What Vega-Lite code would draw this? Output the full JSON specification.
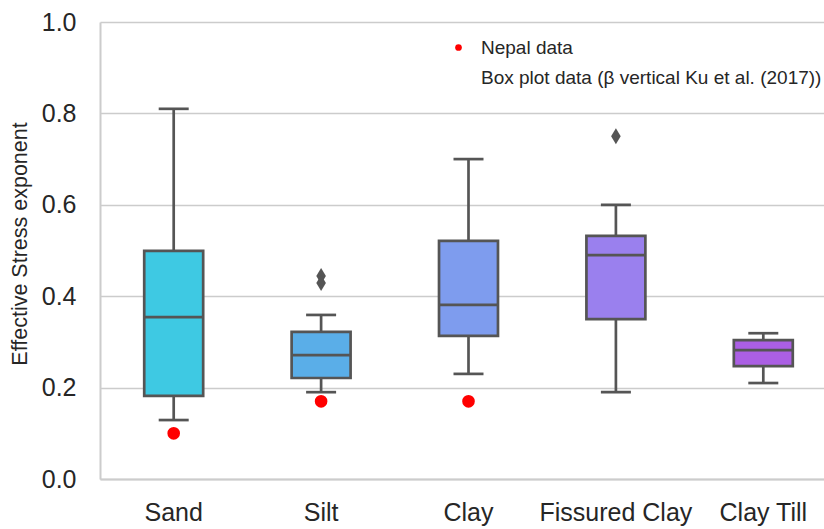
{
  "$schema": "https://vega.github.io/schema/vega-lite/v6.json",
  "width": 724,
  "height": 457,
  "autosize": {"type": "none"},
  "padding": {"left": 100, "top": 22, "right": 0, "bottom": 50},
  "background": "white",
  "config": {
    "font": "Liberation Sans",
    "view": {"stroke": null},
    "axis": {"labelColor": "#262626", "titleColor": "#262626", "labelFont": "Liberation Sans", "titleFont": "Liberation Sans"}
  },
  "datasets": {
    "boxes": [
      {"soil": "Sand", "lower": 0.129, "q1": 0.182, "median": 0.354, "q3": 0.499, "upper": 0.81},
      {"soil": "Silt", "lower": 0.19, "q1": 0.221, "median": 0.271, "q3": 0.322, "upper": 0.359},
      {"soil": "Clay", "lower": 0.23, "q1": 0.313, "median": 0.381, "q3": 0.521, "upper": 0.70},
      {"soil": "Fissured Clay", "lower": 0.19, "q1": 0.35, "median": 0.49, "q3": 0.532, "upper": 0.60},
      {"soil": "Clay Till", "lower": 0.21, "q1": 0.247, "median": 0.282, "q3": 0.304, "upper": 0.319}
    ],
    "outliers": [
      {"soil": "Silt", "value": 0.444},
      {"soil": "Silt", "value": 0.429},
      {"soil": "Fissured Clay", "value": 0.75}
    ],
    "nepal": [
      {"soil": "Sand", "value": 0.10, "series": "Nepal data"},
      {"soil": "Silt", "value": 0.17, "series": "Nepal data"},
      {"soil": "Clay", "value": 0.17, "series": "Nepal data"}
    ]
  },
  "layer": [
    {
      "data": {"name": "boxes"},
      "mark": {"type": "rule", "color": "#555555", "strokeWidth": 2.7},
      "encoding": {
        "x": {
          "field": "soil", "type": "nominal",
          "sort": ["Sand", "Silt", "Clay", "Fissured Clay", "Clay Till"],
          "scale": {"domain": ["Sand", "Silt", "Clay", "Fissured Clay", "Clay Till"], "range": [0, 737], "paddingInner": 0, "paddingOuter": 0},
          "axis": {"title": null, "labelAngle": 0, "labelFontSize": 25, "labelPadding": 21, "ticks": false, "domain": true, "domainColor": "#cccccc", "domainWidth": 2, "grid": false}
        },
        "y": {
          "field": "lower", "type": "quantitative",
          "scale": {"domain": [0, 1], "nice": false, "zero": true},
          "axis": {"title": "Effective Stress exponent", "titleFontSize": 21.5, "titleFontWeight": "normal", "titlePadding": 10, "titleY": 221.5, "values": [0, 0.2, 0.4, 0.6, 0.8, 1.0], "format": ".1f", "labelFontSize": 25, "labelPadding": 24, "ticks": false, "domainColor": "#cccccc", "domainWidth": 2, "grid": true, "gridColor": "#cccccc", "gridWidth": 1.5}
        },
        "y2": {"field": "upper"}
      }
    },
    {
      "data": {"name": "boxes"},
      "mark": {"type": "bar", "width": {"band": 0.4}, "stroke": "#555555", "strokeWidth": 2.7},
      "encoding": {
        "x": {"field": "soil", "type": "nominal"},
        "y": {"field": "q1", "type": "quantitative"},
        "y2": {"field": "q3"},
        "fill": {
          "field": "soil", "type": "nominal",
          "scale": {"domain": ["Sand", "Silt", "Clay", "Fissured Clay", "Clay Till"], "range": ["#3ec9e3", "#5aaee8", "#7e9cee", "#9a80ee", "#ab5fe4"]},
          "legend": null
        }
      }
    },
    {
      "data": {"name": "boxes"},
      "mark": {"type": "tick", "color": "#555555", "thickness": 2.7, "size": 59, "opacity": 1},
      "encoding": {
        "x": {"field": "soil", "type": "nominal"},
        "y": {"field": "median", "type": "quantitative"}
      }
    },
    {
      "data": {"name": "boxes"},
      "mark": {"type": "tick", "color": "#555555", "thickness": 2.7, "size": 30, "opacity": 1},
      "encoding": {
        "x": {"field": "soil", "type": "nominal"},
        "y": {"field": "lower", "type": "quantitative"}
      }
    },
    {
      "data": {"name": "boxes"},
      "mark": {"type": "tick", "color": "#555555", "thickness": 2.7, "size": 30, "opacity": 1},
      "encoding": {
        "x": {"field": "soil", "type": "nominal"},
        "y": {"field": "upper", "type": "quantitative"}
      }
    },
    {
      "data": {"name": "outliers"},
      "mark": {"type": "point", "shape": "M0,-1L0.6,0L0,1L-0.6,0Z", "size": 256, "filled": true, "color": "#555555", "opacity": 1},
      "encoding": {
        "x": {"field": "soil", "type": "nominal"},
        "y": {"field": "value", "type": "quantitative"}
      }
    },
    {
      "data": {"name": "nepal"},
      "mark": {"type": "circle", "size": 160, "opacity": 1},
      "encoding": {
        "x": {"field": "soil", "type": "nominal"},
        "y": {"field": "value", "type": "quantitative"},
        "color": {
          "field": "series", "type": "nominal",
          "scale": {"domain": ["Nepal data", "Box plot data (β vertical Ku et al. (2017))"], "range": ["#ff0000", "transparent"]},
          "legend": {"title": null, "orient": "none", "legendX": 349, "legendY": 16, "labelFontSize": 19, "labelLimit": 0, "labelColor": "#262626", "symbolSize": 45, "symbolType": "circle", "rowPadding": 10, "labelOffset": 13, "symbolStrokeWidth": 0}
        }
      }
    }
  ]
}
